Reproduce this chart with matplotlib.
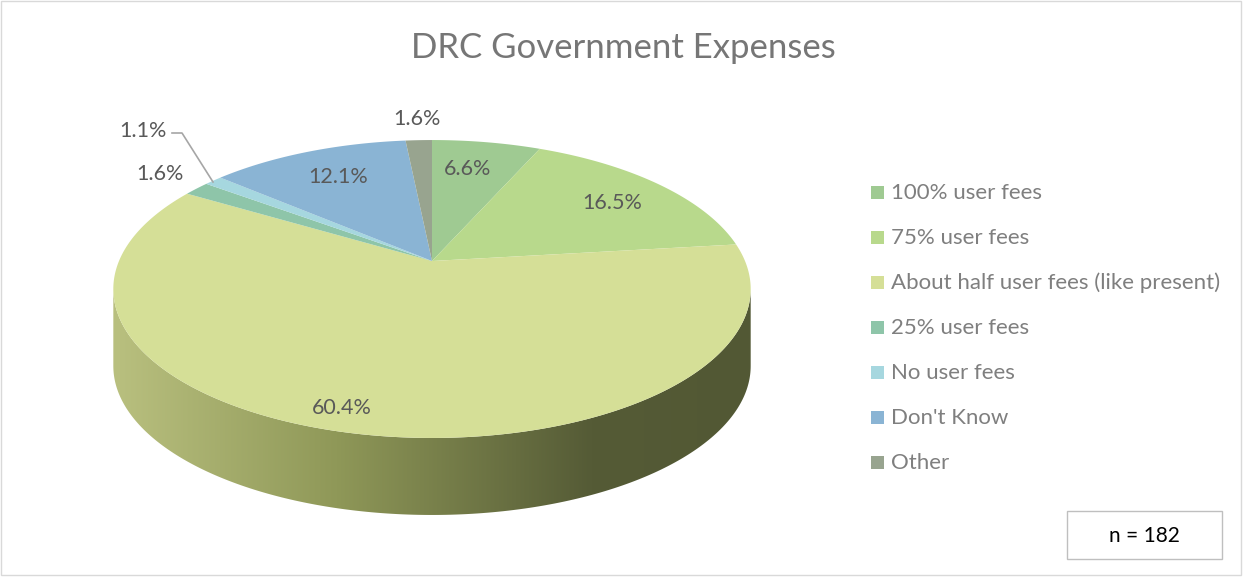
import numpy as np
import matplotlib
matplotlib.use("Agg")
import matplotlib.pyplot as plt
from matplotlib.patches import Polygon, Rectangle
from matplotlib.colors import LinearSegmentedColormap

# data
categories = ["100% user fees", "75% user fees", "About half user fees (like present)",
              "25% user fees", "No user fees", "Don't Know", "Other"]
shares = [6.6, 16.5, 60.4, 1.6, 1.1, 12.1, 1.6]
labels = ["6.6%", "16.5%", "60.4%", "1.6%", "1.1%", "12.1%", "1.6%"]
colors = ["#9fca92", "#b8d98c", "#d5df97", "#8ec5a9", "#a6d7df", "#8ab4d4", "#98a48f"]
n_total = 182

W, H = 1244, 578
fig = plt.figure(figsize=(W / 100, H / 100), dpi=100)
ax = fig.add_axes([0, 0, 1, 1])
ax.set_xlim(0, W)
ax.set_ylim(H, 0)
ax.axis("off")

font = "Lato"

# 3d pie geometry (pixel space)
cx, cy = 432, 261
R, Ry, c = 313, 143.7, 0.188
depth = 77


def project(theta_deg):
    t = np.radians(theta_deg)
    u, v = np.sin(t), np.cos(t)
    d = 1 + c * v
    return cx + R * u / d, cy - Ry * v / d


# side wall of the front (only the big slice shows there)
t_side = np.linspace(100.8, 259.2, 200)
xs, ys = project(t_side)
side = np.vstack([np.column_stack([xs, ys]),
                  np.column_stack([xs[::-1], ys[::-1] + depth])])
side_patch = Polygon(side, closed=True, facecolor="none", edgecolor="none")
ax.add_patch(side_patch)
cmap = LinearSegmentedColormap.from_list(
    "side", [(0, "#b9c07f"), (0.35, "#8f9858"), (0.75, "#555b36"), (1, "#525834")])
grad = np.linspace(0, 1, 256).reshape(1, -1)
im = ax.imshow(grad, cmap=cmap, extent=[xs.min(), xs.max(), ys.max() + depth, ys.min()],
               aspect="auto", zorder=1)
im.set_clip_path(side_patch)
ax.set_xlim(0, W)
ax.set_ylim(H, 0)

# top face wedges
start = 0.0
for share, col in zip(shares, colors):
    end = start + share * 360 / sum(shares)
    tt = np.linspace(start, end, max(3, int(end - start) * 2))
    px, py = project(tt)
    pts = np.vstack([[cx, cy], np.column_stack([px, py])])
    ax.add_patch(Polygon(pts, closed=True, facecolor=col, edgecolor="none", zorder=2))
    start = end

# data labels
label_pos = [(468, 169), (612, 203), (342, 408), (160, 174), (143, 131), (338, 177), (417, 119)]
for txt, (lx, ly) in zip(labels, label_pos):
    ax.text(lx, ly, txt, ha="center", va="center", fontsize=15.5, color="#595959",
            family=font, zorder=5)
ax.plot([172, 182, 213], [133, 133, 182], color="#a6a6a6", lw=1.2, zorder=4)

# title
ax.text(623, 48, "DRC Government Expenses", ha="center", va="center", fontsize=25,
        color="#767676", family=font)

# legend
for i, (cat, col) in enumerate(zip(categories, colors)):
    ly = 193 + i * 45
    ax.add_patch(Rectangle((871, ly - 7), 13, 13, facecolor=col, edgecolor="none"))
    ax.text(891, ly, cat, ha="left", va="center", fontsize=16, color="#7f7f7f", family=font)

# n box
ax.add_patch(Rectangle((1067, 511), 155, 48, facecolor="white", edgecolor="#bfbfbf", lw=1))
ax.text(1144.5, 536, f"n = {n_total}", ha="center", va="center", fontsize=15,
        color="#000000", family=font)

# chart frame
ax.add_patch(Rectangle((1, 1), W - 4, H - 4, facecolor="none", edgecolor="#d9d9d9", lw=1))

fig.savefig("out.png", dpi=100)
